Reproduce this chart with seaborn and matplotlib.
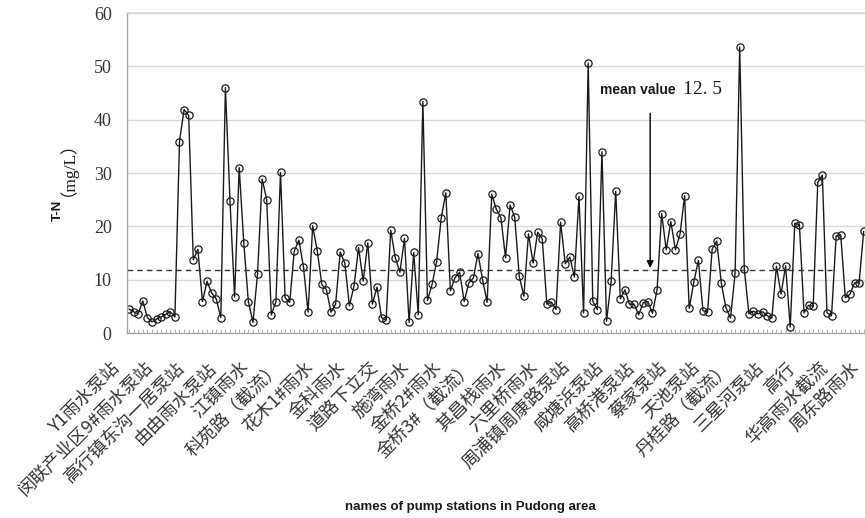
import numpy as np
import pandas as pd
import seaborn as sns
import matplotlib.pyplot as plt
import matplotlib.transforms as mtransforms

# station names shown on the x axis (every 7th sample)
station_labels = [
    'Y1雨水泵站', '闵联产业区9#雨水泵站', '高行镇东沟一居泵站', '由由雨水泵站',
    '江镇雨水', '科苑路（截流）', '花木1#雨水', '金科雨水', '道路下立交',
    '施湾雨水', '金桥2#雨水', '金桥3#（截流）', '其昌栈雨水', '六里桥雨水',
    '周浦镇周康路泵站', '咸塘浜泵站', '高桥港泵站', '蔡家泵站', '天池泵站',
    '丹桂路（截流）', '三星河泵站', '高行', '华高雨水截流', '周东路雨水',
]
label_step = 7

# T-N concentration (mg/L) per sample
tn_values = [
    4.5, 4.0, 3.6, 6.0, 2.9, 2.1, 2.6, 3.0, 3.5, 4.0, 3.0, 35.9, 41.9, 40.8,
    13.75, 15.7, 5.9, 9.7, 7.5, 6.4, 2.9, 46.0, 24.75, 6.75, 31.0, 16.9, 5.9,
    2.0, 11.1, 28.9, 25.0, 3.4, 5.9, 30.1, 6.6, 5.75,
    15.4, 17.4, 12.4, 3.9, 20.1, 15.4, 9.1, 8.1, 3.9, 5.4, 15.2, 13.1, 5.1,
    8.8, 16.0, 9.75, 16.9, 5.4, 8.6, 2.9, 2.4, 19.3, 14.1, 11.4, 17.75, 2.0,
    15.1, 3.4, 43.4, 6.1, 9.1, 13.4, 21.6, 26.3, 7.9, 10.4, 11.4, 5.9, 9.4,
    10.3, 14.9,
    10.0, 5.75, 26.0, 23.2, 21.6, 14.1, 24.0, 21.75, 10.6, 6.9, 18.6, 13.1,
    18.9, 17.7, 5.4, 5.8, 4.4, 20.8, 13.0, 14.25, 10.5, 25.6, 3.75, 50.6, 6.0,
    4.4, 34.0, 2.2, 9.7, 26.6, 6.4, 8.1, 5.4, 5.4, 3.4, 5.7, 5.9, 3.7, 8.1,
    22.4, 15.6, 20.9,
    15.6, 18.5, 25.75, 4.6, 9.5, 13.6, 4.2, 3.9, 15.75, 17.25, 9.3, 4.75, 2.8,
    11.2, 53.6, 12.0, 3.6, 4.1, 3.6, 4.0, 3.25, 2.8, 12.5, 7.3, 12.6, 1.1,
    20.6, 20.3, 3.75, 5.2, 5.0, 28.25, 29.6, 3.8, 3.25, 18.2, 18.4, 6.6, 7.25,
    9.4, 9.4, 19.1,
]

mean_level = 11.8      # where the dashed line sits
mean_text = '12. 5'    # value written in the note

sns.set_theme(style='white')
plt.rcParams['font.family'] = ['Liberation Serif', 'Noto Sans CJK SC', 'DejaVu Sans']

df = pd.DataFrame({'idx': np.arange(len(tn_values)), 'tn': tn_values})

fig = plt.figure(figsize=(8.65, 5.18), dpi=100)
ax = fig.add_axes([0.1468, 0.3571, 0.8623, 0.6178])

sns.lineplot(data=df, x='idx', y='tn', ax=ax, color='#1a1a1a', linewidth=1,
             marker='o', markersize=5.2, markerfacecolor='none',
             markeredgecolor='#1a1a1a', markeredgewidth=0.9)
ax.lines[0].set_markerfacecolor('none')

ax.set_xlim(-0.435, 162)
ax.set_ylim(0, 60)
ax.set_xlabel('')
ax.set_ylabel('')

ax.set_yticks(np.arange(0, 61, 10))
ax.yaxis.grid(True, color='#d9d9d9', linewidth=1)
ax.xaxis.grid(False)

ax.set_xticks(np.arange(len(tn_values) + 1), minor=True)
ax.set_xticks(np.arange(len(station_labels)) * label_step, station_labels)
ax.tick_params(axis='x', which='both', direction='in', length=3, width=0.6,
               color='#a0a0a0', bottom=True, top=False)
ax.tick_params(axis='x', which='major', pad=23)
ax.tick_params(axis='y', length=0, pad=11, labelsize=13, labelcolor='#333333')

shift = mtransforms.ScaledTranslation(-8 / 72, 0, fig.dpi_scale_trans)
for lbl in ax.get_xticklabels():
    lbl.set(rotation=45, ha='right', va='center', rotation_mode='anchor',
            fontsize=13, color='#333333', family=['Noto Sans CJK SC', 'DejaVu Sans'])
    lbl.set_transform(lbl.get_transform() + shift)

for side in ['left', 'bottom']:
    ax.spines[side].set_color('#a6a6a6')
    ax.spines[side].set_linewidth(1)
ax.spines['top'].set_color('#d9d9d9')
ax.spines['right'].set_visible(False)

# mean line and note
ax.hlines(mean_level, -0.435, 153.2, colors='#333333', linestyles=(0, (4, 3)), linewidth=1)
ax.annotate('', xy=(113.5, 12.2), xytext=(113.5, 41.2),
            arrowprops=dict(arrowstyle='-|>', color='black', lw=1,
                            mutation_scale=10, shrinkA=0, shrinkB=0))
ax.text(102.6, 45.6, 'mean value', family='Liberation Sans', weight='bold',
        fontsize=10, ha='left', va='center', color='#1a1a1a')
ax.text(120.6, 45.6, mean_text, family='Liberation Serif', fontsize=14,
        ha='left', va='center', color='#1a1a1a')

# axis titles
fig.text(58 / 865, 1 - 210 / 518, 'T-N', rotation=90, ha='center', va='center',
         family='Liberation Sans', weight='bold', fontsize=9.5, color='#1a1a1a')
fig.text(58 / 865, 1 - 160 / 518, '（mg/L）', rotation=90, ha='center', va='center',
         family=['Liberation Serif', 'Noto Sans CJK SC'], fontsize=12.5, color='#1a1a1a')
fig.text(470 / 865, 1 - 507 / 518, 'names of pump stations in Pudong area',
         ha='center', va='center', family='Liberation Sans', weight='bold',
         fontsize=9.5, color='#1a1a1a')

fig.savefig('out.png', dpi=100)
